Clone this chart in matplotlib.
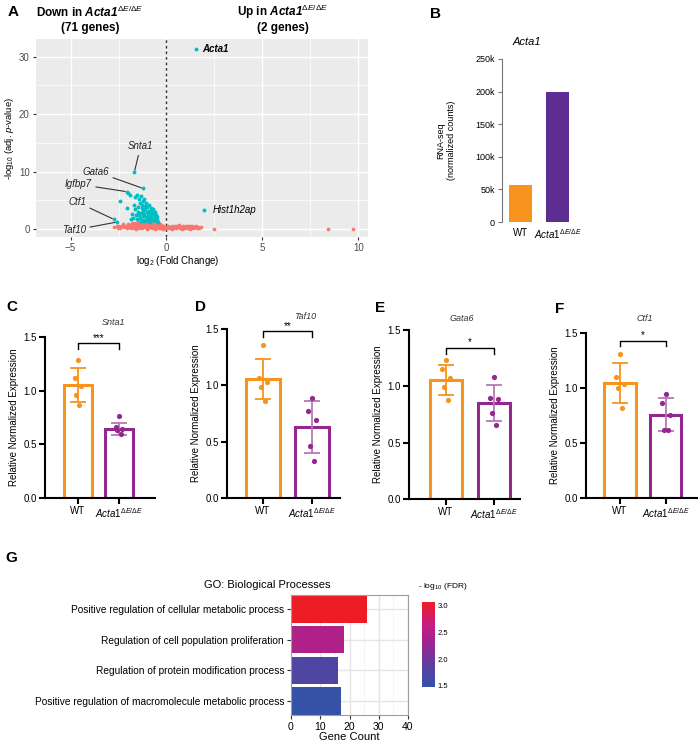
import numpy as np
import matplotlib
matplotlib.use("Agg")
import matplotlib.pyplot as plt
from matplotlib.colors import LinearSegmentedColormap, Normalize
from matplotlib.cm import ScalarMappable

plt.rcParams['font.family'] = ['Liberation Sans', 'DejaVu Sans']
plt.rcParams['mathtext.fontset'] = 'custom'
plt.rcParams['mathtext.rm'] = 'Liberation Sans'
plt.rcParams['mathtext.it'] = 'Liberation Sans:italic'
plt.rcParams['mathtext.bf'] = 'Liberation Sans:bold'
plt.rcParams['mathtext.bfit'] = 'Liberation Sans:italic:bold'

# ---- data: volcano (panel A) ----
red_x = [-2.72, -2.6, -2.55, -2.45, -2.4, -2.3, -2.25, -2.2, -2.1, -2.05,
         -1.98, -1.95, -1.9, -1.85, -1.8, -1.78, -1.72, -1.7, -1.65, -1.62,
         -1.58, -1.55, -1.5, -1.48, -1.45, -1.4, -1.38, -1.35, -1.3, -1.28,
         -1.25, -1.2, -1.18, -1.15, -1.1, -1.08, -1.05, -1.0, -0.98, -0.95,
         -0.92, -0.9, -0.88, -0.85, -0.82, -0.8, -0.78, -0.75, -0.72, -0.7,
         -0.68, -0.65, -0.62, -0.6, -0.58, -0.55, -0.52, -0.5, -0.48, -0.45,
         -0.42, -0.4, -0.38, -0.35, -0.32, -0.3, -0.28, -0.25, -0.2, -0.15,
         -0.1, -0.05, 0.0, 0.05, 0.1, 0.15, 0.2, 0.25, 0.3, 0.35,
         0.4, 0.45, 0.5, 0.55, 0.6, 0.65, 0.7, 0.75, 0.8, 0.85,
         0.9, 0.95, 1.0, 1.05, 1.1, 1.15, 1.2, 1.25, 1.3, 1.35,
         1.4, 1.45, 1.5, 1.55, 1.6, 1.65, 1.7, 1.78, -1.6, -1.0,
         -0.6, -0.2, 0.3, 0.8, 1.2, 2.5, 8.4, 9.7]
red_y = [0.35, 0.5, 0.2, 0.6, 0.15, 0.45, 0.8, 0.3, 0.6, 0.1,
         0.9, 0.4, 0.7, 0.2, 1.0, 0.5, 0.8, 0.15, 1.1, 0.55,
         0.3, 0.9, 1.2, 0.6, 0.1, 0.85, 0.4, 1.15, 0.7, 0.25,
         1.0, 0.5, 1.25, 0.8, 0.3, 1.1, 0.6, 0.95, 0.15, 1.2,
         0.45, 0.75, 1.05, 0.3, 1.3, 0.6, 0.9, 0.2, 1.15, 0.5,
         0.8, 1.0, 0.35, 1.2, 0.65, 0.9, 0.1, 1.1, 0.45, 0.75,
         1.0, 0.25, 0.6, 0.85, 0.4, 0.7, 0.15, 0.5, 0.3, 0.55,
         0.2, 0.4, 0.1, 0.3, 0.55, 0.15, 0.4, 0.25, 0.6, 0.1,
         0.35, 0.5, 0.2, 0.45, 0.3, 0.65, 0.1, 0.4, 0.25, 0.55,
         0.15, 0.35, 0.5, 0.2, 0.6, 0.3, 0.45, 0.1, 0.35, 0.55,
         0.2, 0.4, 0.3, 0.5, 0.15, 0.35, 0.25, 0.4, 0.05, 0.05,
         0.05, 0.0, 0.0, 0.05, 0.0, 0.05, 0.05, 0.05]

cyan_x = [-1.62, -1.55, -1.45, -1.4, -1.35, -1.3, -1.28, -1.25, -1.2, -1.18,
          -1.15, -1.12, -1.1, -1.08, -1.05, -1.02, -1.0, -0.98, -0.95, -0.93,
          -0.9, -0.88, -0.85, -0.83, -0.8, -0.78, -0.75, -0.72, -0.7, -0.68,
          -0.65, -0.62, -0.6, -0.58, -0.55, -0.52, -0.5, -0.48, -0.45, -1.5,
          -1.42, -1.38, -1.32, -1.25, -1.22, -1.6, -1.55, -1.65, -1.7, -1.48,
          -1.05, -0.95, -0.85, -1.15, -1.35, -1.78, -1.85, -1.9, -2.0, -2.4,
          -2.08, -1.73, -1.67, -1.25, -2.08, -2.76, -2.6, 1.55, 1.98]
cyan_y = [5.5, 6.0, 5.2, 4.6, 5.8, 4.2, 3.6, 4.9, 3.1, 5.3,
          2.6, 4.0, 3.4, 2.1, 4.5, 2.9, 3.8, 1.7, 2.4, 3.2,
          4.2, 2.0, 2.8, 3.6, 1.6, 2.5, 3.1, 1.9, 2.7, 3.4,
          1.5, 2.2, 2.9, 1.8, 2.4, 1.4, 2.0, 1.6, 1.3, 3.0,
          2.4, 1.9, 2.7, 1.6, 2.2, 2.5, 1.8, 3.5, 4.2, 3.8,
          1.5, 1.4, 1.3, 1.4, 1.4, 2.6, 1.7, 6.0, 6.2, 4.8,
          3.6, 1.9, 10.0, 7.1, 6.5, 1.7, 1.2, 31.3, 3.3]

label_genes = ['Snta1', 'Gata6', 'Igfbp7', 'Ctf1', 'Taf10']
label_x = [-1.67, -1.25, -2.08, -2.76, -2.6]
label_y = [10.0, 7.1, 6.5, 1.7, 1.2]
label_tx = [-1.35, -3.0, -3.9, -4.2, -4.2]
label_ty = [14.4, 10.0, 7.8, 4.7, -0.2]

# ---- data: RNA-seq (panel B) ----
rna_groups = ['WT', r'$\mathit{Acta1}^{\Delta E/\Delta E}$']
rna_counts = [57000, 200000]

# ---- data: qPCR (panels C-F) ----
qpcr_genes = ['Snta1', 'Taf10', 'Gata6', 'Ctf1']
wt_points = [[1.29, 1.12, 1.04, 0.96, 0.87],
             [1.36, 1.065, 1.03, 0.985, 0.86],
             [1.23, 1.15, 1.07, 0.99, 0.88],
             [1.31, 1.10, 1.04, 1.0, 0.82]]
mut_points = [[0.76, 0.665, 0.645, 0.635, 0.60],
              [0.89, 0.77, 0.695, 0.46, 0.325],
              [1.08, 0.895, 0.888, 0.762, 0.653],
              [0.95, 0.866, 0.755, 0.62, 0.62]]
wt_mean = [1.05, 1.055, 1.057, 1.045]
mut_mean = [0.645, 0.627, 0.85, 0.755]
wt_sd = [0.16, 0.18, 0.13, 0.18]
mut_sd = [0.055, 0.23, 0.16, 0.15]
sig_stars = ['***', '**', '*', '*']

# ---- data: GO (panel G) ----
go_terms = ['Positive regulation of cellular metabolic process',
            'Regulation of cell population proliferation',
            'Regulation of protein modification process',
            'Positive regulation of macromolecule metabolic process']
go_counts = [26, 18, 16, 17]
go_logfdr = [3.07, 2.45, 1.75, 1.48]

ORANGE = '#F7941D'
PURPLE = '#93278F'
W, H = 698, 744


def box(l, t, r, b):
    return [l / W, 1 - b / H, (r - l) / W, (b - t) / H]


def ftext(x, y, s, **kw):
    fig.text(x / W, 1 - y / H, s, **kw)


fig = plt.figure(figsize=(W / 100, H / 100), dpi=100)

# panel letters
for lt, (px, py) in zip('ABCDEFG', [(8, 12), (430, 14), (6, 307), (195, 307),
                                     (375, 308), (555, 309), (5, 558)]):
    ftext(px, py, lt, fontsize=11, fontweight='bold', ha='left', va='center')

# ---------------- A: volcano ----------------
axA = fig.add_axes(box(36, 39, 368, 237))
axA.set_facecolor('#EBEBEB')
axA.set_xlim(-6.8, 10.5)
axA.set_ylim(-1.4, 33.1)
axA.set_xticks([-5, 0, 5, 10])
axA.set_yticks([0, 10, 20, 30])
axA.set_xticks([-2.5, 2.5, 7.5], minor=True)
axA.set_yticks([5, 15, 25], minor=True)
axA.grid(True, which='major', color='white', lw=1.0)
axA.grid(True, which='minor', color='white', lw=0.5)
axA.set_axisbelow(True)
for s in axA.spines.values():
    s.set_visible(False)
axA.tick_params(which='major', length=2.5, color='#333333', labelsize=7,
                labelcolor='#4D4D4D', pad=2)
axA.tick_params(which='minor', length=0)
axA.axvline(0, color='#333333', ls=(0, (2, 2)), lw=1, zorder=2)
axA.scatter(red_x, red_y, s=7, color='#F8766D', lw=0, zorder=3)
axA.scatter(cyan_x, cyan_y, s=8, color='#00BFC4', lw=0, zorder=4)
for g, x0, y0, tx, ty in zip(label_genes, label_x, label_y, label_tx, label_ty):
    ha = 'center' if g == 'Snta1' else 'right'
    axA.annotate(g, xy=(x0, y0), xytext=(tx, ty), fontsize=7, fontstyle='italic',
                 color='#222222', ha=ha, va='center', zorder=5,
                 arrowprops=dict(arrowstyle='-', color='#333333', lw=0.8,
                                 shrinkA=1, shrinkB=1))
axA.text(1.85, 31.3, 'Acta1', fontsize=7, fontstyle='italic', fontweight='bold',
         ha='left', va='center')
axA.text(2.4, 3.3, 'Hist1h2ap', fontsize=7, fontstyle='italic',
         ha='left', va='center')
axA.set_ylabel(r'-log$_{10}$ (adj. $p$-value)', fontsize=6.8, labelpad=2)
ftext(178, 261, r'log$_2$ (Fold Change)', fontsize=7, ha='center', va='center')
ftext(90, 12, r'Down in $\mathbfit{Acta1}^{\Delta E/\Delta E}$', fontsize=8.5,
      fontweight='bold', ha='center', va='center')
ftext(90, 28, '(71 genes)', fontsize=8.5, fontweight='bold', ha='center', va='center')
ftext(283, 12, r'Up in $\mathbfit{Acta1}^{\Delta E/\Delta E}$', fontsize=8.5,
      fontweight='bold', ha='center', va='center')
ftext(283, 28, '(2 genes)', fontsize=8.5, fontweight='bold', ha='center', va='center')

# ---------------- B: RNA-seq ----------------
axB = fig.add_axes(box(502, 59, 576, 222))
axB.bar([0, 1], rna_counts, width=0.62, color=[ORANGE, '#5E2D91'])
axB.set_xlim(-0.49, 1.5)
axB.set_ylim(0, 250000)
axB.set_yticks([0, 50000, 100000, 150000, 200000, 250000])
axB.set_yticklabels(['0', '50k', '100k', '150k', '200k', '250k'])
axB.set_xticks([0, 1])
axB.set_xticklabels(rna_groups)
for s in ['top', 'right', 'bottom']:
    axB.spines[s].set_visible(False)
axB.spines['left'].set_color('#777777')
axB.tick_params(axis='y', length=3, color='#777777', labelsize=6.5, pad=2)
axB.tick_params(axis='x', length=0, labelsize=7, pad=4)
axB.set_ylabel('RNA-seq\n(normalized counts)', fontsize=6.5, labelpad=14)
ftext(527, 42, 'Acta1', fontsize=8, fontstyle='italic', ha='center', va='center')

# ---------------- C-F: qPCR ----------------
panel_boxes = [(45, 337, 155, 498), (227, 329, 340, 498),
               (409, 330, 520, 499), (586, 333, 698, 498)]
panel_xlims = [(-0.8, 1.88), (-0.73, 1.57), (-0.77, 1.54), (-0.74, 1.7)]
title_pos = [(113, 322), (305, 317), (462, 318), (645, 318)]
bracket_y = [1.44, 1.48, 1.34, 1.43]
jitter = [0.0, -0.08, 0.08, -0.04, 0.04]
for i in range(4):
    ax = fig.add_axes(box(*panel_boxes[i]))
    ax.set_xlim(*panel_xlims[i])
    ax.set_ylim(0, 1.5)
    ax.bar([0, 1], [wt_mean[i], mut_mean[i]], width=0.68, color='white',
           edgecolor=[ORANGE, PURPLE], lw=2.2, zorder=2)
    ax.errorbar([0], [wt_mean[i]], yerr=[wt_sd[i]], color=ORANGE, capsize=6,
                lw=1.3, capthick=1.3, zorder=3)
    ax.errorbar([1], [mut_mean[i]], yerr=[mut_sd[i]], color='#B57AB3', capsize=6,
                lw=1.3, capthick=1.3, zorder=3)
    ax.scatter([0 + j for j in jitter], wt_points[i], s=14, color=ORANGE, zorder=4, lw=0)
    ax.scatter([1 + j for j in jitter], mut_points[i], s=14, color=PURPLE, zorder=4, lw=0)
    yb = bracket_y[i]
    ax.plot([0, 0, 1, 1], [yb - 0.05, yb, yb, yb - 0.05], color='black', lw=1,
            clip_on=False)
    ax.text(0.5, yb + 0.005, sig_stars[i], ha='center', va='bottom', fontsize=7,
            clip_on=False)
    for s in ['top', 'right']:
        ax.spines[s].set_visible(False)
    ax.spines['left'].set_linewidth(1.5)
    ax.spines['bottom'].set_linewidth(1.5)
    ax.set_yticks([0, 0.5, 1.0, 1.5])
    ax.set_yticklabels(['0.0', '0.5', '1.0', '1.5'])
    ax.set_xticks([0, 1])
    ax.set_xticklabels(['WT', r'$\mathit{Acta1}^{\Delta E/\Delta E}$'])
    ax.tick_params(axis='both', length=4, width=1.5, labelsize=7, pad=2)
    ax.set_ylabel('Relative Normalized Expression', fontsize=7, labelpad=3)
    ftext(title_pos[i][0], title_pos[i][1], qpcr_genes[i], fontsize=6.5,
          fontstyle='italic', color='#333333', ha='center', va='center')

# ---------------- G: GO ----------------
cmap = LinearSegmentedColormap.from_list(
    'fdr', ['#3551A8', '#5B3F9F', '#9A2592', '#C81D7E', '#EE1C25'])
norm = Normalize(min(go_logfdr), max(go_logfdr))
axG = fig.add_axes(box(291, 595, 408, 715))
ypos = np.arange(len(go_terms))[::-1]
axG.barh(ypos, go_counts, height=0.9, color=cmap(norm(go_logfdr)), zorder=2)
axG.set_xlim(0, 40)
axG.set_ylim(-0.45, 3.45)
axG.set_xticks([0, 10, 20, 30, 40])
axG.set_xticks([5, 15, 25, 35], minor=True)
axG.set_yticks(ypos)
axG.set_yticklabels(go_terms)
axG.grid(True, which='major', color='#E5E5E5', lw=1.0)
axG.grid(True, which='minor', axis='x', color='#F2F2F2', lw=0.6)
axG.set_axisbelow(True)
for s in axG.spines.values():
    s.set_color('#9E9E9E')
    s.set_linewidth(0.8)
axG.tick_params(which='major', length=3, color='#333333', labelsize=7.5, pad=2)
axG.tick_params(axis='y', labelsize=7.3)
axG.tick_params(which='minor', length=0)
axG.set_xlabel('Gene Count', fontsize=8, labelpad=0)
ftext(267, 585, 'GO: Biological Processes', fontsize=8, ha='center', va='center')

cax = fig.add_axes(box(422, 602, 435, 687))
cb = fig.colorbar(ScalarMappable(norm=norm, cmap=cmap), cax=cax)
cb.outline.set_visible(False)
cb.set_ticks([1.5, 2.0, 2.5, 3.0])
cb.set_ticklabels(['1.5', '2.0', '2.5', '3.0'])
cax.tick_params(length=0, labelsize=5.5, pad=2)
ftext(443, 587, r'- log$_{10}$ (FDR)', fontsize=6, ha='center', va='center')

fig.savefig('out.png', dpi=100)
